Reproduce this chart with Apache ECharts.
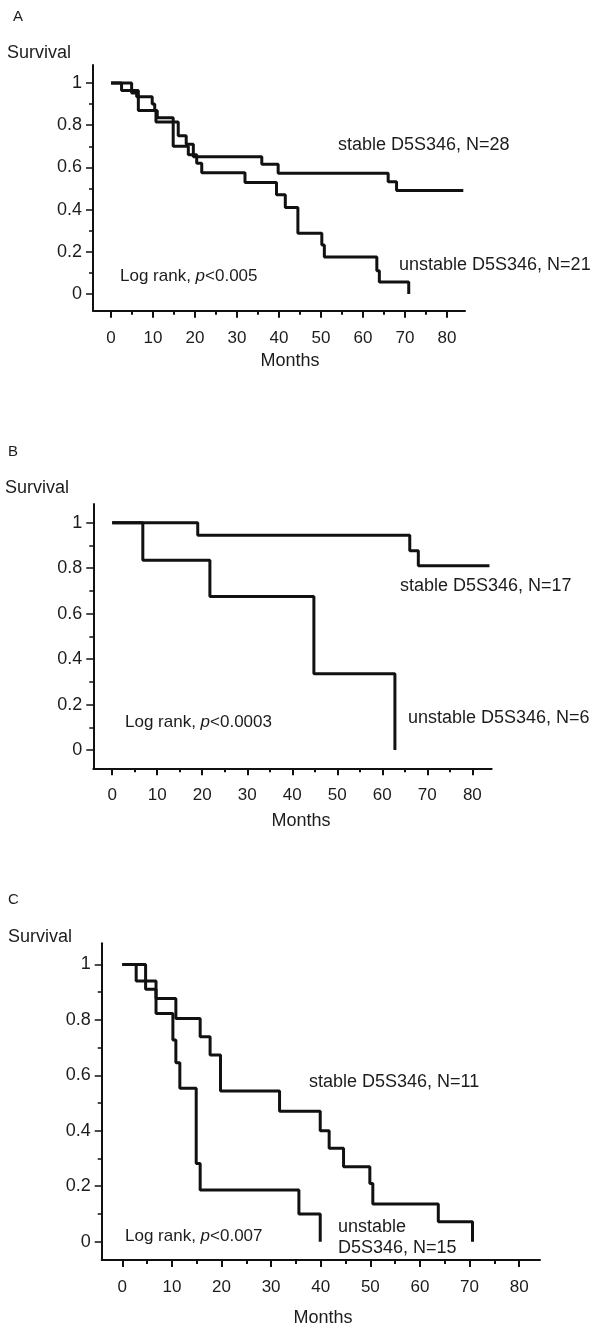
<!DOCTYPE html>
<html>
<head>
<meta charset="utf-8">
<script src="https://cdn.jsdelivr.net/npm/echarts@6/dist/echarts.min.js"></script>
<style>
html,body{margin:0;padding:0;background:#fff;}
#chart{width:597px;height:1331px;}
</style>
</head>
<body>
<div id="chart"></div>
<script>
// ---- Data (months, survival) ----
const monthTicks = [0, 10, 20, 30, 40, 50, 60, 70, 80];
const monthMinorTicks = [5, 15, 25, 35, 45, 55, 65, 75];
const survTicks = [0, 0.2, 0.4, 0.6, 0.8, 1];
const survMinorTicks = [0.1, 0.3, 0.5, 0.7, 0.9];

// Panel A
const aStableT = [0, 2.5, 6.5, 10.7, 16.0, 17.9, 19.6, 35.9, 39.8, 66.0, 68.0, 83.9];
const aStableS = [1, 0.964, 0.87, 0.815, 0.75, 0.71, 0.65, 0.615, 0.572, 0.532, 0.49, 0.49];
const aUnstableT = [0, 4.9, 6.1, 9.8, 10.4, 11.0, 14.8, 18.4, 20.4, 21.6, 31.9, 39.4, 41.5, 44.5, 50.2, 50.8, 63.3, 63.9, 70.9];
const aUnstableS = [1, 0.952, 0.935, 0.90, 0.87, 0.835, 0.70, 0.66, 0.62, 0.575, 0.528, 0.47, 0.41, 0.288, 0.232, 0.175, 0.11, 0.057, 0];

// Panel B
const bStableT = [0, 19.0, 66.1, 68.0, 83.8];
const bStableS = [1, 0.945, 0.877, 0.811, 0.811];
const bUnstableT = [0, 6.8, 21.7, 44.8, 62.8];
const bUnstableS = [1, 0.835, 0.675, 0.336, 0];

// Panel C
const cStableT = [0, 4.7, 6.8, 10.8, 15.7, 17.7, 19.8, 31.7, 39.9, 41.7, 44.6, 49.9, 50.5, 63.7, 70.6];
const cStableS = [1, 0.94, 0.877, 0.805, 0.739, 0.673, 0.543, 0.47, 0.40, 0.337, 0.27, 0.21, 0.136, 0.072, 0];
const cUnstableT = [0, 2.8, 4.7, 6.8, 10.2, 10.8, 11.6, 14.9, 15.7, 35.6, 39.9];
const cUnstableS = [1, 0.94, 0.91, 0.823, 0.727, 0.645, 0.553, 0.282, 0.186, 0.10, 0];

// ---- Layout ----
const FONT = '"Liberation Sans", Arial, Helvetica, sans-serif';
const INK = '#111';
const TXT = '#1c1c1c';

const panels = [
  { grid: {left: 93, top: 65, width: 372, height: 245.7}, x: [-4.3, 84.3], y: [-0.079, 1.085],
    series: [[aStableT, aStableS], [aUnstableT, aUnstableS]] },
  { grid: {left: 93.3, top: 504, width: 398.4, height: 264.3}, x: [-4.2, 84.3], y: [-0.08, 1.082],
    series: [[bStableT, bStableS], [bUnstableT, bUnstableS]] },
  { grid: {left: 101.7, top: 943.3, width: 438.3, height: 316.7}, x: [-4.15, 84.2], y: [-0.066, 1.076],
    series: [[cStableT, cStableS], [cUnstableT, cUnstableS]] }
];

const grids = [], xAxes = [], yAxes = [], series = [];
panels.forEach((p, i) => {
  grids.push(p.grid);
  xAxes.push({
    type: 'value', gridIndex: i, position: 'bottom', min: p.x[0], max: p.x[1],
    axisLine: {show: true, onZero: false, lineStyle: {color: INK, width: 2}},
    axisTick: {show: true, length: 7, lineStyle: {color: INK, width: 2}, customValues: monthTicks},
    axisLabel: {show: true, margin: 19, color: TXT, fontSize: 17, fontFamily: FONT, customValues: monthTicks},
    splitLine: {show: false}
  });
  xAxes.push({
    type: 'value', gridIndex: i, position: 'bottom', min: p.x[0], max: p.x[1],
    axisLine: {show: false, onZero: false},
    axisTick: {show: true, length: 4, lineStyle: {color: INK, width: 2}, customValues: monthMinorTicks},
    axisLabel: {show: false},
    splitLine: {show: false}
  });
  yAxes.push({
    type: 'value', gridIndex: i, position: 'left', min: p.y[0], max: p.y[1],
    axisLine: {show: true, onZero: false, lineStyle: {color: INK, width: 2}},
    axisTick: {show: true, length: 7, lineStyle: {color: INK, width: 1.5}, customValues: survTicks},
    axisLabel: {show: true, margin: 11, color: TXT, fontSize: 18, fontFamily: FONT, customValues: survTicks,
      formatter: v => (Math.abs(v) < 1e-9 ? '0' : (Math.abs(v - 1) < 1e-9 ? '1' : v.toFixed(1)))},
    splitLine: {show: false}
  });
  yAxes.push({
    type: 'value', gridIndex: i, position: 'left', min: p.y[0], max: p.y[1],
    axisLine: {show: false, onZero: false},
    axisTick: {show: true, length: 4, lineStyle: {color: INK, width: 1.5}, customValues: survMinorTicks},
    axisLabel: {show: false},
    splitLine: {show: false}
  });
  p.series.forEach(([T, S]) => {
    series.push({
      type: 'line', step: 'end', xAxisIndex: 2 * i, yAxisIndex: 2 * i,
      data: T.map((t, k) => [t, S[k]]),
      symbol: 'none', silent: true,
      lineStyle: {color: INK, width: 3}
    });
  });
});

function txt(x, y, text, size, align) {
  return { type: 'text', x: x, y: y, silent: true,
    style: { text: text, fill: TXT, font: size + 'px ' + FONT, align: align || 'left', verticalAlign: 'middle' } };
}
function logrank(x, y, pval) {
  return { type: 'text', x: x, y: y, silent: true,
    style: { text: '{n|Log rank, }{i|p}{n|' + pval + '}', fill: TXT, verticalAlign: 'middle',
      rich: { n: {fontSize: 17, fontFamily: FONT, fill: TXT},
              i: {fontSize: 17, fontFamily: FONT, fontStyle: 'italic', fill: TXT} } } };
}

const graphics = [
  // Panel A
  txt(13, 17, 'A', 15),
  txt(7, 53, 'Survival', 18),
  txt(338, 145, 'stable D5S346, N=28', 18),
  txt(399, 265, 'unstable D5S346, N=21', 18),
  logrank(120, 276, '<0.005'),
  txt(290, 361, 'Months', 18, 'center'),
  // Panel B
  txt(8, 452, 'B', 15),
  txt(5, 488, 'Survival', 18),
  txt(400, 586, 'stable D5S346, N=17', 18),
  txt(408, 718, 'unstable D5S346, N=6', 18),
  logrank(125, 722, '<0.0003'),
  txt(301, 821, 'Months', 18, 'center'),
  // Panel C
  txt(8, 900, 'C', 15),
  txt(8, 937, 'Survival', 18),
  txt(309, 1082, 'stable D5S346, N=11', 18),
  txt(338, 1227, 'unstable', 18),
  txt(338, 1248, 'D5S346, N=15', 18),
  logrank(125, 1236, '<0.007'),
  txt(323, 1318, 'Months', 18, 'center')
];

const chart = echarts.init(document.getElementById('chart'), null, {renderer: 'canvas'});
chart.setOption({
  backgroundColor: '#fff',
  animation: false,
  grid: grids,
  xAxis: xAxes,
  yAxis: yAxes,
  series: series,
  graphic: graphics
});
</script>
</body>
</html>
